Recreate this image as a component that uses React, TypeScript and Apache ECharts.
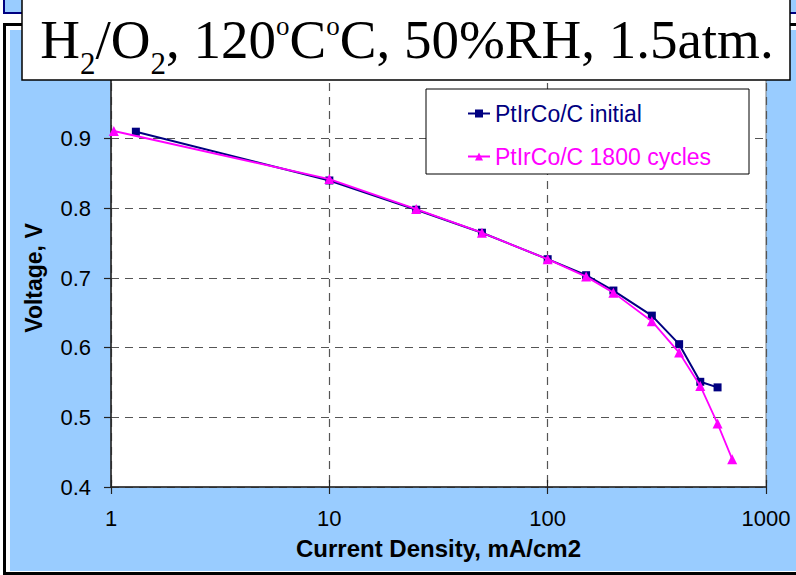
import React, { useEffect, useRef } from "react";
import * as echarts from "echarts";

// Polarisation curves: current density (mA/cm2, log scale) vs cell voltage
const initialCurrent = [1.3, 10, 25, 50, 100, 150, 200, 300, 400, 500, 600];
const initialVoltage = [0.91, 0.84, 0.798, 0.765, 0.727, 0.704, 0.682, 0.646, 0.605, 0.551, 0.543];

const cycledCurrent = [1.03, 10, 25, 50, 100, 150, 200, 300, 400, 500, 600, 700];
const cycledVoltage = [0.911, 0.842, 0.799, 0.765, 0.727, 0.702, 0.679, 0.638, 0.593, 0.545, 0.491, 0.44];

const seriesNames = ["PtIrCo/C initial", "PtIrCo/C 1800 cycles"];
const seriesColors = ["#000080", "#FF00FF"];

const SANS = "'Liberation Sans', Arial, sans-serif";
const SERIF = "'Liberation Serif', 'Times New Roman', serif";
const BLUE = "#99CCFF";

export default function App() {
  const ref = useRef<HTMLDivElement>(null);

  useEffect(() => {
    if (!ref.current) return;
    const chart = echarts.init(ref.current, undefined, { renderer: "svg" });

    const gridDash = { color: "#555", width: 1.2, type: [8, 6] as number[] };

    chart.setOption({
      animation: false,
      backgroundColor: "transparent",
      grid: {
        left: 111,
        right: 30,
        top: 69,
        bottom: 88,
        show: true,
        backgroundColor: "#fff",
        borderColor: "#808080",
        borderWidth: 1,
      },
      xAxis: [
        {
          type: "log",
          logBase: 10,
          min: 1,
          max: 1000,
          name: "Current Density, mA/cm2",
          nameLocation: "middle",
          nameGap: 49,
          nameTextStyle: { fontFamily: SANS, fontSize: 24, fontWeight: "bold", color: "#000" },
          axisLine: { show: true, lineStyle: { color: "#222", width: 1.5 } },
          axisTick: { show: true, length: 7, lineStyle: { color: "#222", width: 1.2 } },
          minorTick: { show: false },
          axisLabel: {
            fontFamily: SANS,
            fontSize: 22,
            color: "#000",
            margin: 20,
            formatter: (v: number) => String(Math.round(v)),
          },
          splitLine: { show: true, lineStyle: gridDash },
        },
        {
          // inner half of the cross ticks on the bottom axis
          type: "log",
          logBase: 10,
          min: 1,
          max: 1000,
          position: "bottom",
          axisLine: { show: false },
          axisTick: { show: true, inside: true, length: 7, lineStyle: { color: "#222", width: 1.2 } },
          axisLabel: { show: false },
          splitLine: { show: false },
        },
      ],
      yAxis: {
        type: "value",
        min: 0.4,
        max: 1.0,
        interval: 0.1,
        name: "Voltage, V",
        nameLocation: "middle",
        nameRotate: 90,
        nameGap: 66,
        nameTextStyle: { fontFamily: SANS, fontSize: 23, fontWeight: "bold", color: "#000" },
        axisLine: { show: true, lineStyle: { color: "#222", width: 1.5 } },
        axisTick: { show: true, length: 7, lineStyle: { color: "#222", width: 1.2 } },
        axisLabel: {
          fontFamily: SANS,
          fontSize: 22,
          color: "#000",
          margin: 20,
          showMaxLabel: false,
          formatter: (v: number) => v.toFixed(1),
        },
        splitLine: { show: true, lineStyle: gridDash },
      },
      legend: {
        orient: "vertical",
        left: 462,
        top: 97,
        itemWidth: 22,
        itemHeight: 10,
        itemGap: 20,
        selectedMode: false,
        textStyle: { fontFamily: SANS, fontSize: 23 },
        data: [
          { name: seriesNames[0], textStyle: { color: seriesColors[0] } },
          { name: seriesNames[1], textStyle: { color: seriesColors[1] } },
        ],
      },
      graphic: [
        {
          type: "rect",
          z: 3,
          shape: { x: 426, y: 89, width: 323, height: 85 },
          style: { fill: "#fff", stroke: "#000", lineWidth: 1 },
        },
        {
          type: "rect",
          z: 100,
          shape: { x: 22, y: -3, width: 768, height: 83 },
          style: { fill: "#fff", stroke: "#000", lineWidth: 1.5 },
        },
        {
          type: "text",
          z: 101,
          x: 407,
          y: 39,
          style: {
            text: "{m|H}{s|2}{m|/O}{s|2}{m|, 120}{o|o}{m|C}{o|o}{m|C, 50%RH, 1.5atm.}",
            align: "center",
            verticalAlign: "middle",
            fill: "#000",
            rich: {
              m: { fontFamily: SERIF, fontSize: 55, lineHeight: 60, fill: "#000", verticalAlign: "middle" },
              s: { fontFamily: SERIF, fontSize: 31, lineHeight: 31, fill: "#000", verticalAlign: "middle", padding: [48, 0, 0, 0] },
              o: { fontFamily: SERIF, fontSize: 27, lineHeight: 27, fill: "#000", verticalAlign: "middle", padding: [0, 0, 26, 0] },
            },
          },
        },
      ],
      series: [
        {
          name: seriesNames[0],
          type: "line",
          xAxisIndex: 0,
          data: initialCurrent.map((x, i) => [x, initialVoltage[i]]),
          symbol: "rect",
          symbolSize: 8,
          itemStyle: { color: seriesColors[0] },
          lineStyle: { color: seriesColors[0], width: 2 },
          z: 2,
        },
        {
          name: seriesNames[1],
          type: "line",
          xAxisIndex: 0,
          data: cycledCurrent.map((x, i) => [x, cycledVoltage[i]]),
          symbol: "triangle",
          symbolSize: 10,
          itemStyle: { color: seriesColors[1] },
          lineStyle: { color: seriesColors[1], width: 1.8 },
          z: 3,
        },
      ],
    });

    return () => chart.dispose();
  }, []);

  return (
    <div
      style={{
        position: "fixed",
        left: 0,
        top: 0,
        width: 796,
        height: 575,
        overflow: "hidden",
        background: "#fff",
      }}
    >
      <div
        style={{
          position: "absolute",
          left: 3,
          top: -10,
          width: 820,
          height: 24,
          boxSizing: "border-box",
          border: "2px solid #000080",
          background: BLUE,
        }}
      />
      <div
        style={{
          position: "absolute",
          left: 3,
          top: 23,
          width: 820,
          height: 552,
          boxSizing: "border-box",
          border: "3px solid #000",
          background: "#fff",
        }}
      />
      <div
        style={{
          position: "absolute",
          left: 10,
          top: 30,
          width: 800,
          height: 541,
          background: BLUE,
        }}
      />
      <div ref={ref} style={{ position: "absolute", left: 0, top: 0, width: 796, height: 575 }} />
    </div>
  );
}
